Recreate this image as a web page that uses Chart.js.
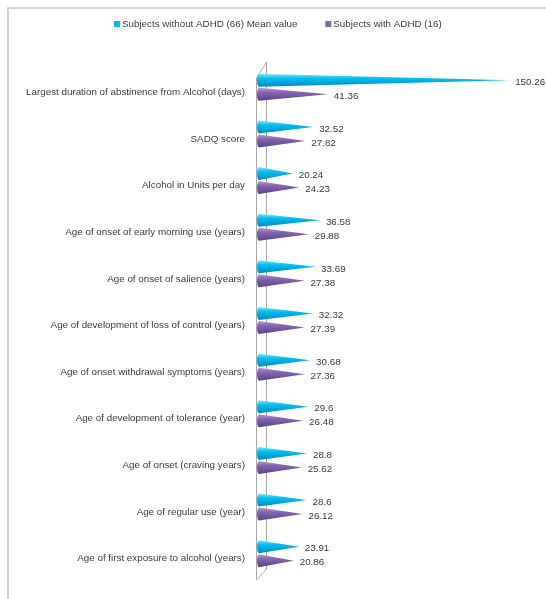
<!DOCTYPE html>
<html>
<head>
<meta charset="utf-8">
<script src="https://cdn.jsdelivr.net/npm/chart.js@4"></script>
<style>
  html, body { margin: 0; padding: 0; background: #fff; overflow: hidden; }
  #frame { position: absolute; left: 7px; top: 7px; width: 1000px; height: 1000px;
           border-left: 2px solid #d2d2d2; border-top: 2px solid #d2d2d2; }
  #wrap { position: absolute; left: 0; top: 0; width: 546px; height: 599px; }
</style>
</head>
<body>
<div id="frame"></div>
<div id="wrap"><canvas id="chart"></canvas></div>
<script>
// categories, top to bottom
const categories = [
    'Largest duration of abstinence from Alcohol (days)',
    'SADQ score',
    'Alcohol in Units per day',
    'Age of onset of early morning use (years)',
    'Age of onset of salience (years)',
    'Age of development of loss of control (years)',
    'Age of onset withdrawal symptoms (years)',
    'Age of development of tolerance (year)',
    'Age of onset (craving years)',
    'Age of regular use (year)',
    'Age of first exposure to alcohol (years)'
];
const withoutAdhd = [150.26, 32.52, 20.24, 36.58, 33.69, 32.32, 30.68, 29.6, 28.8, 28.6, 23.91];
const withAdhd = [41.36, 27.82, 24.23, 29.88, 27.38, 27.39, 27.36, 26.48, 25.62, 26.12, 20.86];
const seriesNames = ['Subjects without ADHD (66) Mean value', 'Subjects with ADHD (16)'];

const FONT = '"Liberation Sans", Arial, sans-serif';
const TEXT = '#3a3a3a';

// colours for each cone: light top, mid, dark bottom
const shades = [
    ['#8ae4fb', '#00c0ee', '#0089c2'],
    ['#b7a0d8', '#8466b0', '#5a4386']
];

// draw bars as cones starting at the base
const conePlugin = {
    id: 'cones',
    beforeDatasetsDraw(chart) {
        const { ctx, chartArea: a } = chart;
        ctx.save();
        ctx.strokeStyle = '#a8a8a8';
        ctx.lineWidth = 1;
        const lx = Math.round(a.left - 3) + 0.5, rx = Math.round(a.left + 7) + 0.5;
        ctx.beginPath();
        ctx.moveTo(lx, a.bottom + 3);
        ctx.lineTo(lx, a.top + 14);
        ctx.lineTo(rx, a.top - 2);
        ctx.lineTo(rx, a.bottom - 8);
        ctx.lineTo(lx, a.bottom + 3);
        ctx.stroke();
        ctx.restore();
    },
    beforeDatasetDraw(chart, args) {
        const { ctx } = chart;
        const meta = args.meta;
        const c = shades[args.index];
        ctx.save();
        meta.data.forEach(bar => {
            const p = bar.getProps(['x', 'y', 'base', 'height'], true);
            const h = p.height, top = p.y - h / 2, bot = p.y + h / 2;
            const g = ctx.createLinearGradient(0, top, 0, bot);
            g.addColorStop(0, c[0]);
            g.addColorStop(0.35, c[1]);
            g.addColorStop(1, c[2]);
            ctx.fillStyle = g;
            ctx.beginPath();
            ctx.moveTo(p.base, top);
            ctx.lineTo(p.x, p.y);
            ctx.lineTo(p.base, bot);
            ctx.ellipse(p.base, p.y, 2, h / 2, 0, Math.PI / 2, Math.PI * 1.5);
            ctx.closePath();
            ctx.fill();
        });
        ctx.restore();
        return false;
    },
    afterDatasetsDraw(chart) {
        const { ctx } = chart;
        ctx.save();
        ctx.font = '9.8px ' + FONT;
        ctx.fillStyle = TEXT;
        ctx.textBaseline = 'middle';
        ctx.textAlign = 'left';
        chart.data.datasets.forEach((ds, i) => {
            chart.getDatasetMeta(i).data.forEach((bar, j) => {
                ctx.fillText(String(ds.data[j]), bar.x + 6, bar.y + 2);
            });
        });
        // legend
        const gap = 27, box = 6;
        const widths = seriesNames.map(n => box + 3 + ctx.measureText(n).width);
        let x = 114;
        const y = 24;
        seriesNames.forEach((n, i) => {
            ctx.fillStyle = shades[i][1];
            ctx.fillRect(x, y - box / 2, box, box);
            ctx.fillStyle = TEXT;
            ctx.fillText(n, x + box + 2, y);
            x += widths[i] + gap;
        });
        ctx.restore();
    }
};

new Chart(document.getElementById('chart'), {
    type: 'bar',
    data: {
        labels: categories,
        datasets: [
            { label: seriesNames[0], data: withoutAdhd, backgroundColor: shades[0][1] },
            { label: seriesNames[1], data: withAdhd, backgroundColor: shades[1][1] }
        ]
    },
    options: {
        indexAxis: 'y',
        responsive: true,
        maintainAspectRatio: false,
        animation: false,
        categoryPercentage: 0.6,
        barPercentage: 0.93,
        layout: { padding: { top: 64, bottom: 22, left: 0, right: 4 } },
        plugins: {
            legend: { display: false },
            tooltip: { enabled: false }
        },
        scales: {
            x: {
                display: false,
                min: 0,
                max: 170
            },
            y: {
                afterFit(scale) { scale.width = 259; },
                grid: { display: false },
                border: { display: false },
                ticks: {
                    padding: 6,
                    labelOffset: 5,
                    color: TEXT,
                    font: { family: FONT, size: 9.8 }
                }
            }
        }
    },
    plugins: [conePlugin]
});
</script>
</body>
</html>
